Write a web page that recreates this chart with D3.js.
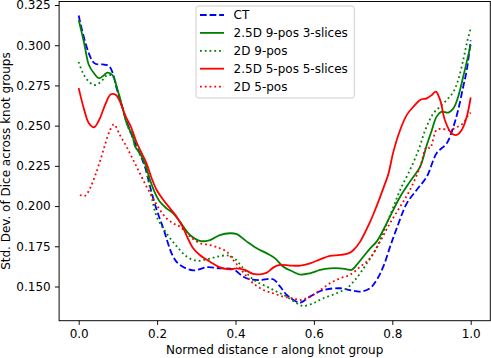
<!DOCTYPE html>
<html>
<head>
<meta charset="utf-8">
<script src="https://cdn.jsdelivr.net/npm/d3@7"></script>
<style>
  html, body { margin: 0; padding: 0; background: #fff; }
  svg { display: block; font-family: "DejaVu Sans", sans-serif; }
</style>
</head>
<body>
<svg id="chart" width="491" height="358"></svg>
<script>
// ---------------- data (r, std. dev.) ----------------
const seriesNames = ["CT", "2.5D 9-pos 3-slices", "2D 9-pos", "2.5D 5-pos 5-slices", "2D 5-pos"];
const seriesColors = ["#0000ff", "#008000", "#008000", "#ff0000", "#ff0000"];
const seriesDash = ["dashed", "solid", "dotted", "solid", "dotted"];

const ct = [[0,0.3185],[0.039,0.2890],[0.065,0.2880],[0.077,0.2872],[0.086,0.2832],[0.098,0.2722],[0.111,0.2618],[0.124,0.2515],[0.137,0.2432],[0.169,0.2245],[0.182,0.2121],[0.199,0.1976],[0.216,0.1860],[0.241,0.1685],[0.258,0.1634],[0.292,0.1600],[0.327,0.1620],[0.360,0.1613],[0.394,0.1607],[0.420,0.1561],[0.437,0.1545],[0.463,0.1540],[0.496,0.1545],[0.514,0.1499],[0.531,0.1447],[0.556,0.1405],[0.565,0.1399],[0.590,0.1437],[0.624,0.1478],[0.667,0.1489],[0.692,0.1478],[0.718,0.1468],[0.743,0.1489],[0.760,0.1540],[0.777,0.1623],[0.794,0.1745],[0.811,0.1860],[0.837,0.2017],[0.862,0.2100],[0.888,0.2183],[0.913,0.2328],[0.939,0.2391],[0.956,0.2494],[0.968,0.2598],[0.981,0.2743],[0.990,0.2846],[1.000,0.3030]];

const d25_9 = [[0,0.3157],[0.014,0.3012],[0.026,0.2877],[0.039,0.2826],[0.052,0.2795],[0.065,0.2815],[0.073,0.2830],[0.086,0.2815],[0.098,0.2732],[0.111,0.2618],[0.124,0.2504],[0.137,0.2440],[0.144,0.2369],[0.156,0.2328],[0.169,0.2266],[0.182,0.2162],[0.195,0.2080],[0.207,0.2027],[0.224,0.1986],[0.241,0.1955],[0.258,0.1903],[0.284,0.1820],[0.309,0.1783],[0.335,0.1789],[0.360,0.1820],[0.386,0.1831],[0.403,0.1826],[0.429,0.1779],[0.454,0.1738],[0.480,0.1706],[0.501,0.1675],[0.522,0.1623],[0.547,0.1592],[0.565,0.1574],[0.590,0.1582],[0.616,0.1603],[0.641,0.1613],[0.667,0.1613],[0.684,0.1607],[0.696,0.1603],[0.709,0.1634],[0.726,0.1685],[0.743,0.1735],[0.760,0.1779],[0.777,0.1851],[0.794,0.1934],[0.820,0.2058],[0.845,0.2152],[0.871,0.2245],[0.888,0.2380],[0.901,0.2473],[0.913,0.2556],[0.926,0.2587],[0.943,0.2581],[0.956,0.2608],[0.968,0.2680],[0.981,0.2805],[0.993,0.2929],[1.000,0.3002]];

const d2_9 = [[0,0.2896],[0.009,0.2836],[0.022,0.2784],[0.039,0.2753],[0.052,0.2764],[0.065,0.2795],[0.073,0.2815],[0.086,0.2810],[0.098,0.2732],[0.111,0.2618],[0.124,0.2504],[0.137,0.2430],[0.156,0.2320],[0.169,0.2250],[0.182,0.2110],[0.199,0.1934],[0.224,0.1831],[0.250,0.1750],[0.276,0.1685],[0.301,0.1660],[0.327,0.1669],[0.352,0.1685],[0.378,0.1693],[0.394,0.1680],[0.420,0.1613],[0.437,0.1561],[0.454,0.1530],[0.480,0.1499],[0.505,0.1468],[0.531,0.1437],[0.556,0.1396],[0.573,0.1379],[0.598,0.1396],[0.624,0.1427],[0.658,0.1458],[0.684,0.1489],[0.701,0.1530],[0.718,0.1582],[0.735,0.1644],[0.752,0.1706],[0.769,0.1789],[0.786,0.1893],[0.803,0.1996],[0.820,0.2100],[0.845,0.2224],[0.867,0.2349],[0.884,0.2473],[0.905,0.2577],[0.922,0.2618],[0.939,0.2660],[0.956,0.2711],[0.968,0.2784],[0.981,0.2909],[0.990,0.3012],[1.000,0.3106]];

const d25_5 = [[0,0.2733],[0.014,0.2598],[0.026,0.2515],[0.039,0.2490],[0.052,0.2535],[0.069,0.2639],[0.082,0.2695],[0.095,0.2691],[0.107,0.2639],[0.120,0.2556],[0.133,0.2494],[0.147,0.2400],[0.161,0.2328],[0.173,0.2266],[0.186,0.2173],[0.199,0.2100],[0.216,0.2038],[0.233,0.1986],[0.250,0.1934],[0.267,0.1862],[0.276,0.1812],[0.292,0.1738],[0.309,0.1696],[0.335,0.1654],[0.360,0.1619],[0.386,0.1607],[0.403,0.1613],[0.424,0.1603],[0.445,0.1578],[0.463,0.1576],[0.480,0.1586],[0.497,0.1619],[0.514,0.1634],[0.539,0.1630],[0.565,0.1630],[0.590,0.1644],[0.616,0.1669],[0.641,0.1690],[0.667,0.1696],[0.688,0.1706],[0.701,0.1727],[0.718,0.1779],[0.743,0.1900],[0.760,0.2000],[0.777,0.2110],[0.790,0.2200],[0.803,0.2340],[0.820,0.2473],[0.837,0.2567],[0.854,0.2618],[0.871,0.2660],[0.888,0.2670],[0.901,0.2691],[0.911,0.2711],[0.922,0.2660],[0.934,0.2535],[0.951,0.2453],[0.964,0.2442],[0.977,0.2473],[0.990,0.2556],[1.000,0.2675]];

const d2_5 = [[0.003,0.2069],[0.016,0.2063],[0.029,0.2111],[0.041,0.2183],[0.054,0.2276],[0.067,0.2380],[0.080,0.2473],[0.090,0.2508],[0.105,0.2442],[0.122,0.2369],[0.139,0.2287],[0.156,0.2204],[0.173,0.2121],[0.190,0.2048],[0.207,0.1976],[0.224,0.1924],[0.241,0.1893],[0.258,0.1872],[0.284,0.1810],[0.309,0.1769],[0.335,0.1758],[0.360,0.1738],[0.378,0.1716],[0.394,0.1665],[0.412,0.1613],[0.429,0.1561],[0.445,0.1520],[0.471,0.1478],[0.496,0.1458],[0.522,0.1437],[0.547,0.1427],[0.565,0.1416],[0.590,0.1437],[0.616,0.1478],[0.641,0.1520],[0.667,0.1551],[0.692,0.1572],[0.718,0.1623],[0.743,0.1675],[0.769,0.1780],[0.794,0.1893],[0.820,0.1996],[0.845,0.2100],[0.871,0.2245],[0.888,0.2369],[0.896,0.2360],[0.913,0.2473],[0.926,0.2480],[0.947,0.2473],[0.964,0.2490],[0.981,0.2515],[0.994,0.2567],[1.000,0.2580]];

const seriesData = [ct, d25_9, d2_9, d25_5, d2_5];

const xTicks = [0.0, 0.2, 0.4, 0.6, 0.8, 1.0];
const yTicks = [0.150, 0.175, 0.200, 0.225, 0.250, 0.275, 0.300, 0.325];
const xLabel = "Normed distance r along knot group";
const yLabel = "Std. Dev. of Dice across knot groups";

// ---------------- layout ----------------
const svg = d3.select("#chart");
const L = 59.1, R = 490.3, T = 1.5, B = 320.7;
const x = d3.scaleLinear().domain([-0.05, 1.05]).range([L, R]);
const y = d3.scaleLinear().domain([0.12874, 0.32718]).range([B, T]);

const fs = 12;
const dashMap = { solid: null, dashed: "6.7,2.9", dotted: "1.8,2.97" };

// lines
const line = d3.line().x(d => x(d[0])).y(d => y(d[1])).curve(d3.curveCatmullRom.alpha(0.5));
const gLines = svg.append("g");
seriesData.forEach((data, i) => {
  gLines.append("path")
    .datum(data)
    .attr("d", line)
    .attr("fill", "none")
    .attr("stroke", seriesColors[i])
    .attr("stroke-width", 1.8)
    .attr("stroke-dasharray", dashMap[seriesDash[i]])
    .attr("stroke-linejoin", "round");
});

// axes
const xAxis = d3.axisBottom(x).tickValues(xTicks).tickFormat(d3.format(".1f")).tickSizeOuter(0).tickSize(4.2).tickPadding(4.2);
const yAxis = d3.axisLeft(y).tickValues(yTicks).tickFormat(d3.format(".3f")).tickSizeOuter(0).tickSize(4.2).tickPadding(4.2);

const gx = svg.append("g").attr("transform", `translate(0,${B})`).call(xAxis);
const gy = svg.append("g").attr("transform", `translate(${L},0)`).call(yAxis);
[gx, gy].forEach(g => {
  g.select(".domain").remove();
  g.selectAll(".tick line").attr("stroke", "#000").attr("stroke-width", 0.96);
  g.selectAll(".tick text").attr("font-size", fs).attr("font-family", "DejaVu Sans").attr("fill", "#000");
});

// spines
svg.append("rect")
  .attr("x", L).attr("y", T).attr("width", R - L).attr("height", B - T)
  .attr("fill", "none").attr("stroke", "#000").attr("stroke-width", 0.96);

// axis labels
svg.append("text")
  .attr("x", (L + R) / 2).attr("y", 354)
  .attr("text-anchor", "middle").attr("font-size", fs).attr("fill", "#000")
  .text(xLabel);
svg.append("text")
  .attr("transform", `translate(10,${(T + B) / 2}) rotate(-90)`)
  .attr("text-anchor", "middle").attr("font-size", fs).attr("fill", "#000")
  .text(yLabel);

// legend
const lg = svg.append("g");
const lgX = 196, lgY = 6, lgW = 158.3, lgH = 92;
lg.append("rect")
  .attr("x", lgX).attr("y", lgY).attr("width", lgW).attr("height", lgH)
  .attr("rx", 2.5).attr("ry", 2.5)
  .attr("fill", "#fff").attr("fill-opacity", 0.8)
  .attr("stroke", "#cccccc").attr("stroke-width", 0.96);
seriesNames.forEach((name, i) => {
  const cy = 15 + i * 17.9;
  lg.append("line")
    .attr("x1", 200).attr("x2", 224).attr("y1", cy).attr("y2", cy)
    .attr("stroke", seriesColors[i]).attr("stroke-width", 1.8)
    .attr("stroke-dasharray", dashMap[seriesDash[i]]);
  lg.append("text")
    .attr("x", 233.6).attr("y", cy).attr("dy", "0.36em")
    .attr("font-size", fs).attr("fill", "#000")
    .text(name);
});
</script>
</body>
</html>
